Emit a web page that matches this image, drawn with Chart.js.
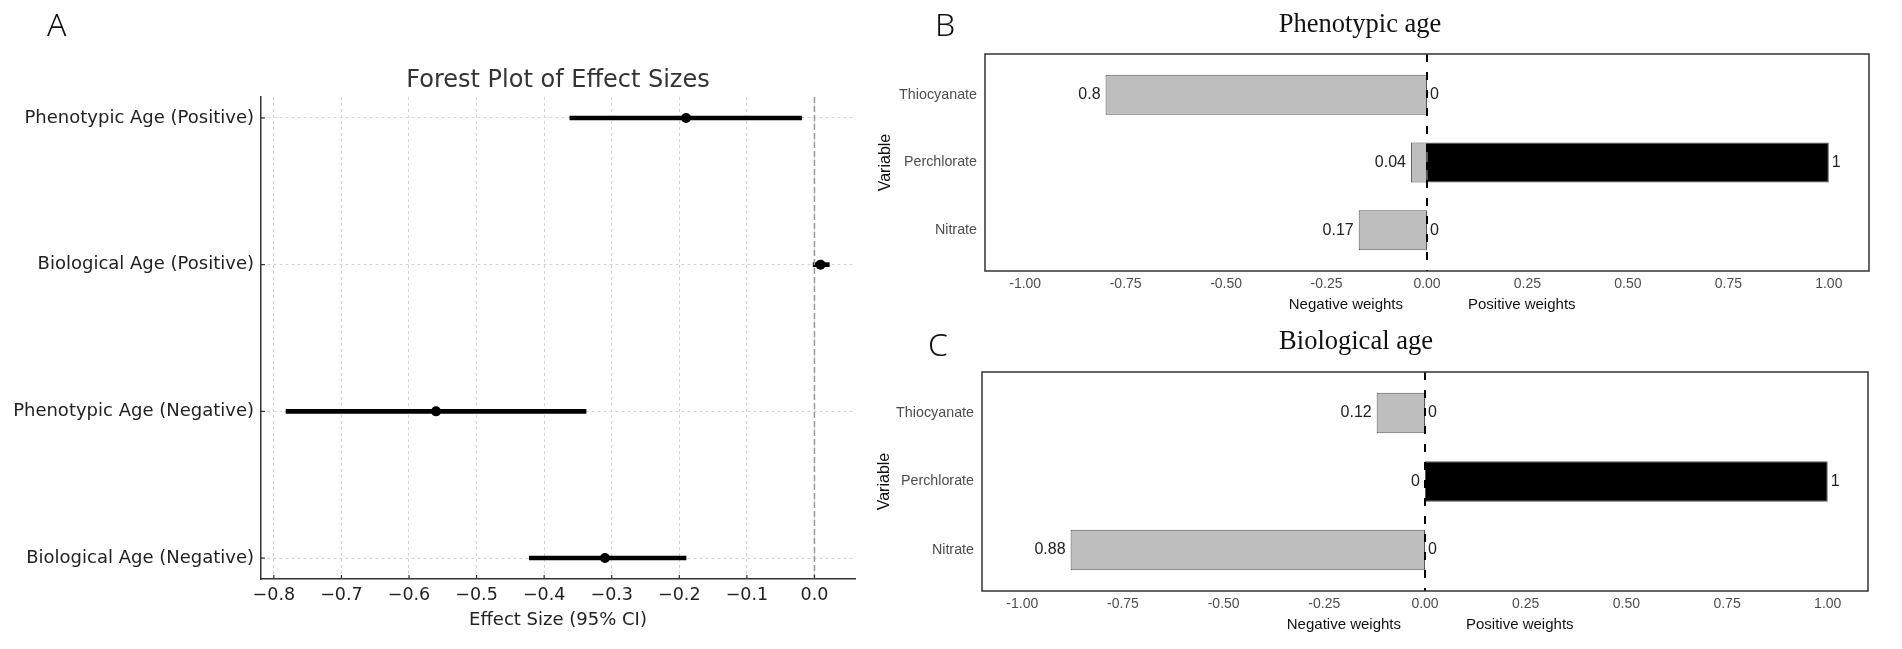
<!DOCTYPE html>
<html><head><meta charset="utf-8">
<script src="https://cdn.jsdelivr.net/npm/chart.js@4.4.1/dist/chart.umd.min.js"></script>
<style>
html,body{margin:0;padding:0;background:#fff;width:1902px;height:649px;overflow:hidden;}
canvas{position:absolute;}
#cA{left:0;top:0;width:860px;height:649px;}
#cB{left:860px;top:0;width:1042px;height:318px;}
#cC{left:860px;top:318px;width:1042px;height:331px;}
</style></head><body>
<canvas id="cA" width="860" height="649"></canvas>
<canvas id="cB" width="1042" height="318"></canvas>
<canvas id="cC" width="1042" height="331"></canvas>
<script>
// ---------- Panel A data ----------
const forestCategories = ['Phenotypic Age (Positive)', 'Biological Age (Positive)', 'Phenotypic Age (Negative)', 'Biological Age (Negative)'];
const forestEstimates = [-0.19, 0.009, -0.56, -0.31];
const forestLower = [-0.362, -0.002, -0.782, -0.422];
const forestUpper = [-0.019, 0.022, -0.338, -0.19];
const forestTicks = [-0.8, -0.7, -0.6, -0.5, -0.4, -0.3, -0.2, -0.1, 0.0];

// ---------- Panels B / C data ----------
const variables = ['Thiocyanate', 'Perchlorate', 'Nitrate'];
const phenoNegative = [-0.8, -0.04, -0.17];
const phenoPositive = [0, 1, 0];
const bioNegative = [-0.12, 0, -0.88];
const bioPositive = [0, 1, 0];
const weightTicks = [-1, -0.75, -0.5, -0.25, 0, 0.25, 0.5, 0.75, 1];

const FOREST_Y = [-0.143, 3.143];
const WEIGHT_Y = [-0.6, 2.6];

// ---------- Panel A ----------
const forestDecor = {
  id: 'forestDecor',
  afterDraw(chart) {
    const {ctx, chartArea: a, scales: {x, y}} = chart;
    ctx.save();
    ctx.strokeStyle = '#333'; ctx.lineWidth = 1.2;
    x.ticks.forEach(t => { const p = x.getPixelForValue(t.value); ctx.beginPath(); ctx.moveTo(p, a.bottom); ctx.lineTo(p, a.bottom - 4); ctx.stroke(); });
    y.ticks.forEach(t => { const p = y.getPixelForValue(t.value); ctx.beginPath(); ctx.moveTo(a.left, p); ctx.lineTo(a.left + 4, p); ctx.stroke(); });
    ctx.fillStyle = '#333'; ctx.font = '24px "DejaVu Sans"'; ctx.textAlign = 'center'; ctx.textBaseline = 'alphabetic';
    ctx.fillText('Forest Plot of Effect Sizes', (a.left + a.right) / 2, 87);
    ctx.fillStyle = '#111'; ctx.font = '300 32px "Noto Sans"'; ctx.textAlign = 'left';
    ctx.fillText('A', 47, 36);
    ctx.restore();
  }
};

new Chart(document.getElementById('cA'), {
  type: 'bar',
  data: {
    datasets: [
      { type: 'scatter', data: forestCategories.map((_, i) => ({x: forestEstimates[i], y: i})), pointRadius: 5, pointBackgroundColor: '#000', pointBorderWidth: 0, order: 0 },
      { type: 'line', data: [{x: 0, y: FOREST_Y[0]}, {x: 0, y: FOREST_Y[1]}], borderColor: '#999', borderWidth: 1.5, borderDash: [6, 3], pointRadius: 0, order: 1 },
      { type: 'bar', indexAxis: 'y', data: forestCategories.map((_, i) => ({x: [forestLower[i], forestUpper[i]], y: i})), backgroundColor: '#000', borderWidth: 0, barThickness: 4, order: 2 }
    ]
  },
  options: {
    responsive: false, animation: false, devicePixelRatio: 1, events: [],
    layout: { padding: { left: 0, right: 1, top: 97, bottom: 10 } },
    plugins: { legend: { display: false }, tooltip: { enabled: false } },
    scales: {
      x: {
        type: 'linear', position: 'bottom', min: -0.819, max: 0.06, offset: false,
        afterBuildTicks: s => { s.ticks = forestTicks.map(v => ({value: v})); },
        afterFit: s => { s.height = 60; },
        grid: { display: true, color: '#d4d4d4', lineWidth: 1, drawTicks: false, offset: false },
        border: { display: true, color: '#333', width: 1.5, dash: [3, 3] },
        ticks: { padding: 6, maxRotation: 0, autoSkip: false, color: '#222', font: { family: 'DejaVu Sans', size: 17.5 },
          callback: v => (v < 0 ? '\u2212' : '') + Math.abs(v).toFixed(1) },
        title: { display: true, text: 'Effect Size (95% CI)', color: '#222', font: { family: 'DejaVu Sans', size: 18 }, padding: { top: 0, bottom: 8 } }
      },
      y: {
        type: 'linear', position: 'left', min: FOREST_Y[0], max: FOREST_Y[1], reverse: true, offset: false,
        afterBuildTicks: s => { s.ticks = forestCategories.map((_, i) => ({value: i})); },
        afterFit: s => { s.width = 261; },
        grid: { display: true, color: '#d4d4d4', lineWidth: 1, drawTicks: false, offset: false },
        border: { display: true, color: '#333', width: 1.5, dash: [3, 3] },
        ticks: { padding: 7, autoSkip: false, color: '#222', font: { family: 'DejaVu Sans', size: 18 },
          callback: v => forestCategories[Math.round(v)] }
      }
    }
  },
  plugins: [forestDecor]
});

// ---------- Panels B / C ----------
const weightDecor = {
  id: 'weightDecor',
  afterDraw(chart, args, o) {
    const {ctx, chartArea: a, scales: {x}} = chart;
    ctx.save();
    // frame
    ctx.strokeStyle = '#333'; ctx.lineWidth = 1.5;
    ctx.strokeRect(a.left, a.top, a.right - a.left, a.bottom - a.top);
    // value labels
    ctx.fillStyle = '#222'; ctx.font = '16px "Liberation Sans"'; ctx.textBaseline = 'middle';
    chart.data.datasets.forEach((ds, di) => {
      if (ds.type !== 'bar') return;
      const meta = chart.getDatasetMeta(di);
      meta.data.forEach((el, i) => {
        const v = ds.data[i].x;
        const txt = String(Math.abs(v));
        if (ds.side === 'neg') { ctx.textAlign = 'right'; ctx.fillText(txt, el.x - 5, el.y); }
        else { ctx.textAlign = 'left'; ctx.fillText(txt, el.x + 3, el.y); }
      });
    });
    // side labels
    const z = x.getPixelForValue(0);
    ctx.fillStyle = '#111'; ctx.font = '15px "Liberation Sans"'; ctx.textBaseline = 'middle';
    ctx.textAlign = 'right'; ctx.fillText('Negative weights', z - 24, a.bottom + 34);
    ctx.textAlign = 'left'; ctx.fillText('Positive weights', z + 41, a.bottom + 34);
    // title
    ctx.fillStyle = '#111'; ctx.font = '26.5px "Liberation Serif"'; ctx.textAlign = 'center'; ctx.textBaseline = 'alphabetic';
    ctx.fillText(o.title, o.titleX, o.titleY);
    // panel letter
    ctx.font = '300 32px "Noto Sans"'; ctx.textAlign = 'left';
    ctx.fillText(o.letter, o.letterX, o.letterY);
    ctx.restore();
  }
};

function weightChart(id, neg, pos, deco, yWidth, pad, titlePadTop) {
  return new Chart(document.getElementById(id), {
    type: 'bar',
    data: {
      datasets: [
        { type: 'line', data: [{x: 0, y: WEIGHT_Y[0]}, {x: 0, y: WEIGHT_Y[1]}], borderColor: '#000', borderWidth: 2, borderDash: [8, 10], pointRadius: 0, order: 0 },
        { type: 'bar', side: 'neg', indexAxis: 'y', grouped: false, data: variables.map((_, i) => ({x: neg[i], y: i})),
          backgroundColor: '#bebebe', borderColor: '#555', borderWidth: 1, borderSkipped: false, categoryPercentage: 1, barPercentage: 0.59, order: 2 },
        { type: 'bar', side: 'pos', indexAxis: 'y', grouped: false, data: variables.map((_, i) => ({x: pos[i], y: i})),
          backgroundColor: '#000', borderColor: '#555', borderWidth: 1, borderSkipped: false, categoryPercentage: 1, barPercentage: 0.59, order: 1 }
      ]
    },
    options: {
      responsive: false, animation: false, devicePixelRatio: 1, events: [],
      layout: { padding: pad },
      plugins: { legend: { display: false }, tooltip: { enabled: false }, weightDecor: deco },
      scales: {
        x: {
          type: 'linear', position: 'bottom', min: -1.1, max: 1.1, offset: false,
          afterBuildTicks: s => { s.ticks = weightTicks.map(v => ({value: v})); },
          afterFit: s => { s.height = 40; },
          grid: { display: false, drawTicks: false, offset: false },
          border: { display: false },
          ticks: { padding: 5, maxRotation: 0, autoSkip: false, color: '#4d4d4d', font: { family: 'Liberation Sans', size: 14 },
            callback: v => v.toFixed(2) }
        },
        y: {
          type: 'linear', position: 'left', min: WEIGHT_Y[0], max: WEIGHT_Y[1], reverse: true, offset: false,
          afterBuildTicks: s => { s.ticks = variables.map((_, i) => ({value: i})); },
          afterFit: s => { s.width = yWidth; },
          grid: { display: false, drawTicks: false, offset: false },
          border: { display: false },
          ticks: { padding: 8, autoSkip: false, color: '#4d4d4d', font: { family: 'Liberation Sans', size: 14.3 },
            callback: v => variables[Math.round(v)] },
          title: { display: true, text: 'Variable', color: '#111', font: { family: 'Liberation Sans', size: 16 }, padding: { top: titlePadTop, bottom: 0 } }
        }
      }
    },
    plugins: [weightDecor]
  });
}

weightChart('cB', phenoNegative, phenoPositive,
  { title: 'Phenotypic age', titleX: 500, titleY: 32, letter: 'B', letterX: 75, letterY: 36 },
  125, { left: 0, right: 33, top: 54, bottom: 7 }, 16);
weightChart('cC', bioNegative, bioPositive,
  { title: 'Biological age', titleX: 496, titleY: 31, letter: 'C', letterX: 68, letterY: 38 },
  122, { left: 0, right: 34, top: 54, bottom: 18 }, 15);
</script>
</body></html>
